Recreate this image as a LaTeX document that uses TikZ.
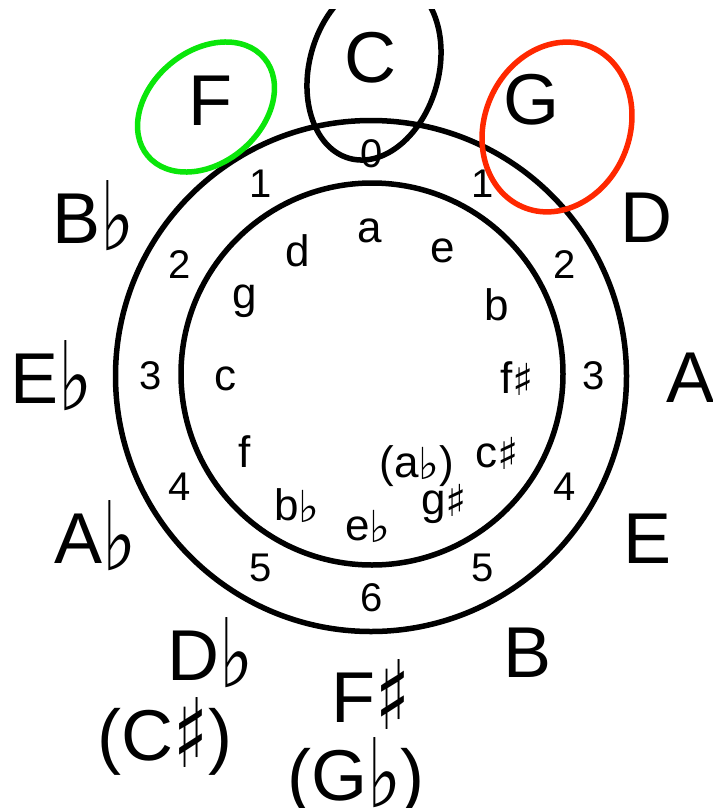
\documentclass[tikz,border=0pt]{standalone}
\usepackage{fontspec}
\usepackage{graphicx}
\setmainfont{Liberation Sans}
\newfontfamily\accfont{DejaVu Sans}
% accidentals: small ones for the minor keys, tall ones for the major keys
\newcommand\fla{\raisebox{-0.06em}{\accfont ♭}}
\newcommand\shp{\raisebox{-0.06em}{\accfont ♯}}
\newcommand\Fla{\raisebox{-0.11em}{\scalebox{1}[1.33]{\accfont ♭}}}
\newcommand\Shp{\raisebox{-0.11em}{\scalebox{1}[1.33]{\accfont ♯}}}
\definecolor{keyred}{RGB}{255,40,0}
\definecolor{keygreen}{RGB}{10,230,10}
\begin{document}
\begin{tikzpicture}[x=1pt,y=-1pt,
  major/.style={font=\fontsize{72}{72}\selectfont, anchor=base, inner sep=0pt},
  minor/.style={font=\fontsize{44}{44}\selectfont, anchor=base, inner sep=0pt},
  num/.style={font=\fontsize{40}{40}\selectfont, inner sep=0pt},
  ring/.style={circle, draw, line width=5.5pt, inner sep=0pt},
  loop/.style={line width=5.5pt}]
\useasboundingbox (0,0) rectangle (712,808);

% the two rings
\node[ring, minimum size=511pt] (outer) at (371,376) {};
\node[ring, minimum size=382pt] (inner) at (372,374) {};

% number of accidentals, between the rings
\node[num] (n0)  at (372,154)   {0};
\node[num] (n1r) at (483,183.7) {1};
\node[num] (n2r) at (564.3,265) {2};
\node[num] (n3r) at (594,376)   {3};
\node[num] (n4r) at (564.3,487) {4};
\node[num] (n5r) at (483,568.3) {5};
\node[num] (n6)  at (372,598)   {6};
\node[num] (n5l) at (261,568.3) {5};
\node[num] (n4l) at (179.7,487) {4};
\node[num] (n3l) at (151,376)   {3};
\node[num] (n2l) at (179.7,265) {2};
\node[num] (n1l) at (261,183.7) {1};

% minor keys, inside the inner ring
\node[minor] (ma)   at (370,242) {a};
\node[minor] (me)   at (443,262) {e};
\node[minor] (mb)   at (497,320) {b};
\node[minor] (mfs)  at (517,393) {f\shp};
\node[minor] (mcs)  at (497,467) {c\shp};
\node[minor] (mab)  at (417,477) {(a\fla)};
\node[minor] (mgs)  at (444,514) {g\shp};
\node[minor] (meb)  at (368,540) {e\fla};
\node[minor] (mbb)  at (297,520) {b\fla};
\node[minor] (mf)   at (245,467) {f};
\node[minor] (mc)   at (225,390) {c};
\node[minor] (mg)   at (245,308) {g};
\node[minor] (md)   at (298,266) {d};

% major keys, outside the outer ring
\node[major] (kC)  at (370,82)  {C};
\node[major] (kG)  at (531,124) {G};
\node[major] (kD)  at (646,242) {D};
\node[major] (kA)  at (691,402) {A};
\node[major] (kE)  at (648,563) {E};
\node[major] (kB)  at (528,677) {B};
\node[major] (kFs) at (371,722) {F\Shp};
\node[major] (kGb) at (356,800) {(G\Fla)};
\node[major] (kDb) at (210,680) {D\Fla};
\node[major] (kCs) at (165,760) {(C\Shp)};
\node[major] (kAb) at (95,563)  {A\Fla};
\node[major] (kEb) at (51,403)  {E\Fla};
\node[major] (kBb) at (93,243)  {B\Fla};
\node[major] (kF)  at (210,125) {F};

% rings marking C, its dominant G and subdominant F
\coordinate (cC) at (374,69);
\coordinate (cG) at (557,127);
\coordinate (cF) at (206,107);
\begin{scope}
  \clip (0,10) rectangle (712,808);
  \draw[loop] (cC) ellipse [x radius=64.7, y radius=92.7, rotate=-15.3];
\end{scope}
\draw[loop, keyred] (cG) ellipse [x radius=72.5, y radius=87, rotate=-23.4];
\draw[loop, keygreen] (cF) ellipse [x radius=56, y radius=76, rotate=-50];
\end{tikzpicture}
\end{document}
